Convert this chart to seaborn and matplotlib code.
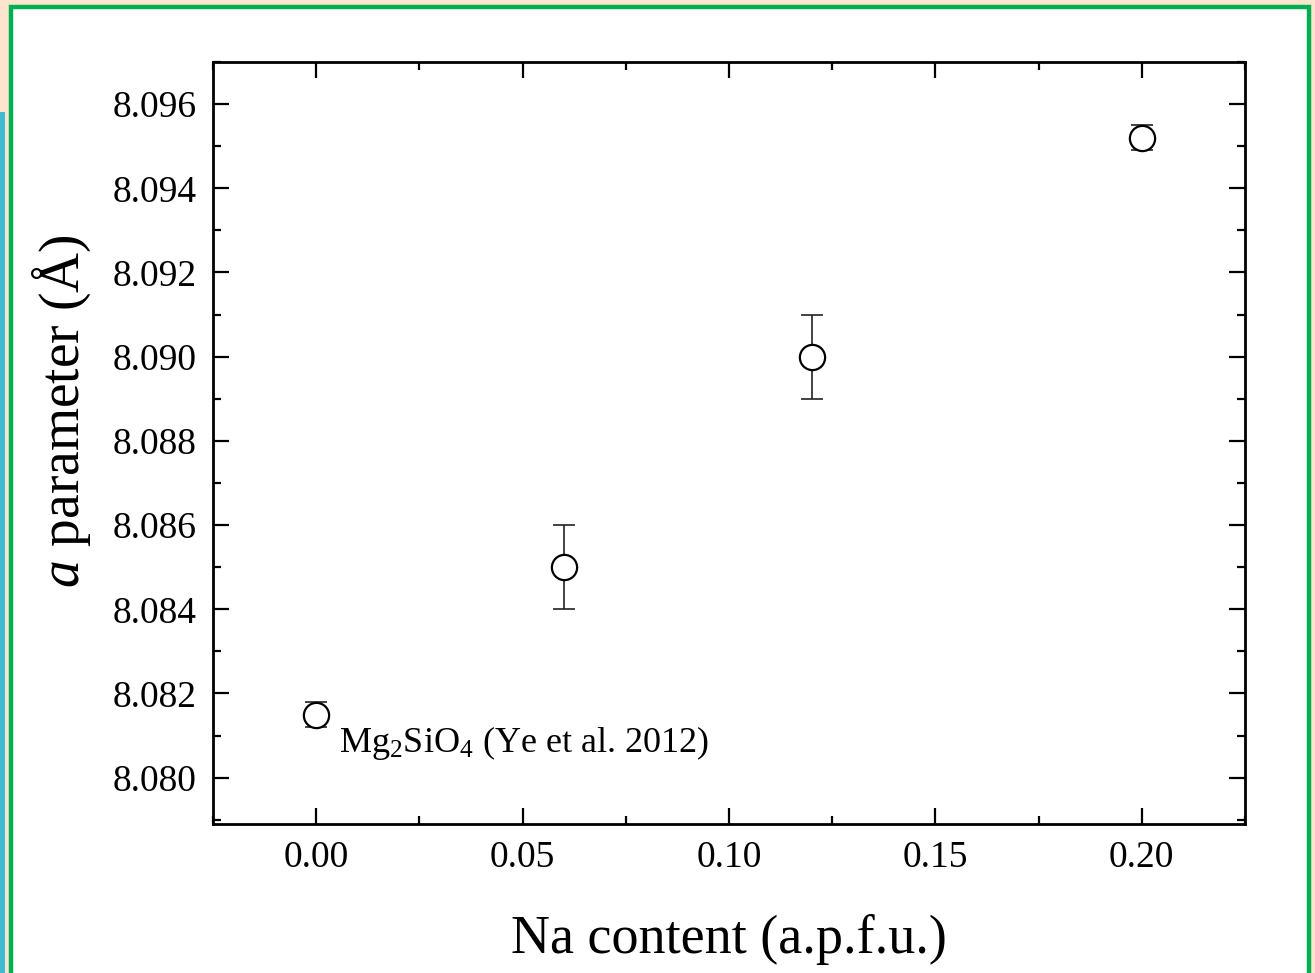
import matplotlib
matplotlib.use("Agg")
import matplotlib.pyplot as plt
import seaborn as sns
import pandas as pd
from matplotlib.patches import Rectangle
from matplotlib.ticker import MultipleLocator

na_content = [0.00, 0.06, 0.12, 0.20]
a_param = [8.0815, 8.0850, 8.0900, 8.0952]
a_err = [0.0003, 0.0010, 0.0010, 0.0003]
x_ticks = [0.00, 0.05, 0.10, 0.15, 0.20]
y_ticks = [8.080, 8.082, 8.084, 8.086, 8.088, 8.090, 8.092, 8.094, 8.096]
annotation = r"Mg$_{2}$SiO$_{4}$ (Ye et al. 2012)"
xlabel = "Na content (a.p.f.u.)"
ylabel = r"$a$ parameter (Å)"

sns.set_style("ticks")
plt.rcParams['font.family'] = ['Liberation Serif', 'DejaVu Serif']
plt.rcParams['mathtext.fontset'] = 'custom'
plt.rcParams['mathtext.rm'] = 'Liberation Serif'
plt.rcParams['mathtext.it'] = 'Liberation Serif:italic'
plt.rcParams['text.color'] = 'black'
plt.rcParams['axes.labelcolor'] = 'black'
plt.rcParams['xtick.color'] = 'black'
plt.rcParams['ytick.color'] = 'black'

df = pd.DataFrame({"x": na_content, "y": a_param, "err": a_err})

fig = plt.figure(figsize=(13.15, 9.73), dpi=100)
fig.patch.set_facecolor("#FCE4CF")
# decorative frame
fig.patches.append(Rectangle((11/1315, -0.05), (1309-11)/1315, 1.05 - 7/973, transform=fig.transFigure,
                             facecolor="white", edgecolor="#00B050", linewidth=3.2, zorder=0))
fig.patches.append(Rectangle((0, 0), 5/1315, 1 - 112/973, transform=fig.transFigure,
                             facecolor="#41BAD3", edgecolor="none", zorder=0))

ax = fig.add_axes([213/1315, 1 - 824/973, (1245-213)/1315, (824-62)/973])
ax.set_zorder(5)
ax.set_facecolor("white")

ax.errorbar(df["x"], df["y"], yerr=df["err"], fmt="none", ecolor="#222222",
            elinewidth=1.2, capsize=8, capthick=1.2, zorder=2)
sns.scatterplot(data=df, x="x", y="y", ax=ax, marker="o", s=330,
                facecolors="white", edgecolor="black", linewidth=1.6, zorder=3, legend=False)

ax.set_xlim(-0.025, 0.225)
ax.set_ylim(8.0789, 8.0970)
ax.set_xticks(x_ticks)
ax.set_xticklabels([f"{v:.2f}" for v in x_ticks])
ax.set_yticks(y_ticks)
ax.set_yticklabels([f"{v:.3f}" for v in y_ticks])
ax.xaxis.set_minor_locator(MultipleLocator(0.025))
ax.yaxis.set_minor_locator(MultipleLocator(0.001))

ax.tick_params(which="both", direction="in", top=True, right=True, width=1.6, color="black")
ax.tick_params(which="major", length=11.5, labelsize=27)
ax.tick_params(axis="x", which="major", pad=12)
ax.tick_params(axis="y", which="major", pad=12)
ax.tick_params(which="minor", length=6)
for s in ax.spines.values():
    s.set_linewidth(2.0)
    s.set_color("black")

ax.set_xlabel(xlabel, fontsize=39, labelpad=28)
ax.set_ylabel(ylabel, fontsize=40, labelpad=14)
ax.yaxis.label.set_y(0.542)

ax.text(0.0055, 8.08062, annotation, fontsize=26, ha="left", va="baseline")

fig.savefig("out.png", dpi=100, facecolor=fig.get_facecolor())
